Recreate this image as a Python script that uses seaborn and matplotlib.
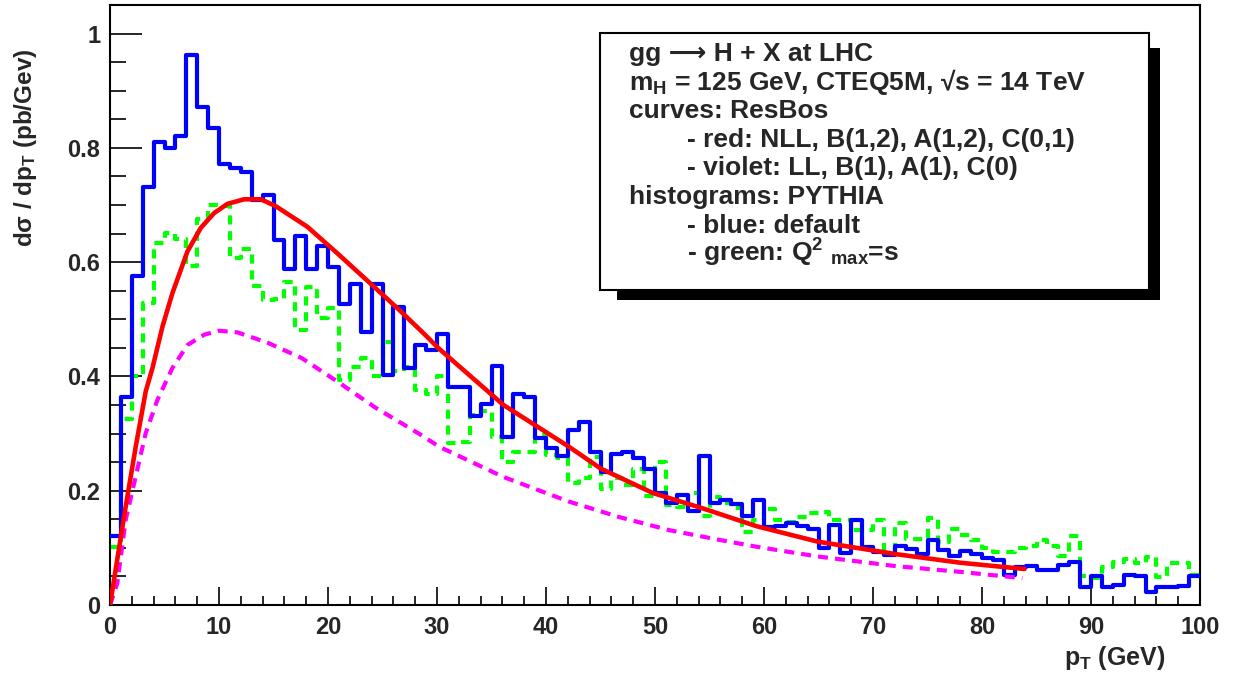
import numpy as np
import pandas as pd
import matplotlib
matplotlib.use("Agg")
import matplotlib.pyplot as plt
from matplotlib.patches import Rectangle
from matplotlib.ticker import MultipleLocator, FuncFormatter
import seaborn as sns

# ---------------- data ----------------
pt_min, pt_max, n_bins = 0, 100, 100

blue_default = [
    0.120, 0.364, 0.575, 0.731, 0.810, 0.799, 0.820, 0.963, 0.871, 0.835,
    0.772, 0.765, 0.758, 0.708, 0.718, 0.638, 0.588, 0.645, 0.588, 0.629,
    0.591, 0.527, 0.562, 0.477, 0.562, 0.402, 0.521, 0.415, 0.455, 0.447,
    0.474, 0.382, 0.382, 0.331, 0.352, 0.419, 0.294, 0.370, 0.364, 0.292,
    0.274, 0.260, 0.306, 0.321, 0.268, 0.232, 0.264, 0.268, 0.257, 0.238,
    0.196, 0.179, 0.193, 0.165, 0.260, 0.179, 0.183, 0.176, 0.156, 0.184,
    0.136, 0.138, 0.144, 0.138, 0.133, 0.099, 0.140, 0.091, 0.148, 0.101,
    0.093, 0.088, 0.103, 0.098, 0.089, 0.114, 0.096, 0.085, 0.095, 0.089,
    0.083, 0.078, 0.053, 0.067, 0.068, 0.062, 0.062, 0.070, 0.075, 0.031,
    0.050, 0.031, 0.035, 0.053, 0.050, 0.023, 0.031, 0.031, 0.034, 0.050,
]

green_q2max = [
    0.102, 0.325, 0.400, 0.528, 0.633, 0.651, 0.640, 0.593, 0.675, 0.700,
    0.698, 0.607, 0.623, 0.559, 0.534, 0.536, 0.566, 0.482, 0.557, 0.502,
    0.520, 0.394, 0.417, 0.432, 0.401, 0.461, 0.409, 0.417, 0.377, 0.369,
    0.400, 0.283, 0.286, 0.333, 0.339, 0.294, 0.251, 0.268, 0.268, 0.298,
    0.263, 0.257, 0.213, 0.223, 0.259, 0.203, 0.222, 0.210, 0.238, 0.190,
    0.251, 0.175, 0.172, 0.196, 0.156, 0.189, 0.178, 0.169, 0.128, 0.149,
    0.168, 0.149, 0.146, 0.154, 0.161, 0.163, 0.148, 0.149, 0.131, 0.131,
    0.149, 0.097, 0.143, 0.115, 0.115, 0.152, 0.111, 0.133, 0.123, 0.113,
    0.100, 0.092, 0.092, 0.099, 0.103, 0.113, 0.103, 0.085, 0.120, 0.050,
    0.047, 0.066, 0.076, 0.080, 0.074, 0.084, 0.049, 0.073, 0.073, 0.053,
]

red_pt = [0.0, 0.37, 1.29, 2.36, 3.28, 3.9, 4.81, 5.73, 7.11, 8.33, 9.56, 10.78,
          12.3, 13.85, 15.2, 18.1, 21.0, 24.1, 26.5, 28.9, 30.1, 36.1, 42.1,
          45.0, 49.8, 54.4, 59.3, 64.9, 72.1, 78.0, 83.9]
red_nll = [0.0, 0.044, 0.155, 0.277, 0.374, 0.415, 0.487, 0.546, 0.619, 0.660,
           0.686, 0.702, 0.710, 0.710, 0.698, 0.662, 0.613, 0.559, 0.517, 0.473,
           0.450, 0.350, 0.277, 0.239, 0.196, 0.169, 0.138, 0.111, 0.089, 0.074,
           0.063]

violet_pt = [0.0, 0.67, 1.44, 2.36, 3.28, 4.35, 5.73, 7.11, 8.64, 10.0, 11.7,
             14.46, 17.6, 21.1, 24.3, 28.5, 30.2, 36.1, 42.1, 46.7, 51.3, 55.9,
             59.3, 64.9, 72.1, 78.0, 83.7]
violet_ll = [0.0, 0.038, 0.149, 0.225, 0.301, 0.359, 0.415, 0.455, 0.473, 0.480,
             0.477, 0.459, 0.432, 0.388, 0.346, 0.298, 0.277, 0.224, 0.181, 0.154,
             0.131, 0.114, 0.102, 0.085, 0.068, 0.058, 0.047]

legend_lines = [
    ("gg \u27f6 H + X at LHC", False),
    ("m$_\\mathrm{H}$ = 125 GeV, CTEQ5M, \u221as = 14 TeV", False),
    ("curves: ResBos", False),
    ("- red: NLL, B(1,2), A(1,2), C(0,1)", True),
    ("- violet: LL, B(1), A(1), C(0)", True),
    ("histograms: PYTHIA", False),
    ("- blue: default", True),
    (r"- green: Q$^\mathrm{2}$ $_\mathrm{max}$=s", True),
]

# ---------------- style ----------------
sns.set_style("white")
plt.rcParams["font.family"] = ["Liberation Sans", "DejaVu Sans"]
plt.rcParams["font.weight"] = "bold"
plt.rcParams["mathtext.fontset"] = "custom"
plt.rcParams["mathtext.rm"] = "Liberation Sans:bold"
plt.rcParams["mathtext.bf"] = "Liberation Sans:bold"
plt.rcParams["mathtext.it"] = "Liberation Sans:bold"
plt.rcParams["mathtext.sf"] = "Liberation Sans:bold"

W, H = 1234, 677
fig = plt.figure(figsize=(W / 100, H / 100), dpi=100)
fig.patch.set_facecolor("white")
ax = fig.add_axes([110 / W, 72 / H, 1090 / W, 600 / H])
ax.set_facecolor("white")

bin_width = (pt_max - pt_min) / n_bins
centers = pt_min + bin_width * (np.arange(n_bins) + 0.5)
hist_df = pd.DataFrame({"pt": centers,
                        "blue": np.asarray(blue_default, dtype=float),
                        "green": np.asarray(green_q2max, dtype=float)})

sns.histplot(data=hist_df, x="pt", weights="green", bins=n_bins,
             binrange=(pt_min, pt_max), element="step",
             fill=False, color="#00ff00", linewidth=3.0,
             linestyle=(0, (2.2, 1.6)), ax=ax, zorder=2)
sns.histplot(data=hist_df, x="pt", weights="blue", bins=n_bins,
             binrange=(pt_min, pt_max), element="step",
             fill=False, color="#0000ff", linewidth=3.0, ax=ax, zorder=3)
sns.lineplot(x=violet_pt, y=violet_ll, color="#ff00ff", linewidth=3.0,
             linestyle=(0, (2.4, 1.7)), ax=ax, zorder=4, estimator=None)
sns.lineplot(x=red_pt, y=red_nll, color="#ff0000", linewidth=3.3,
             ax=ax, zorder=5, estimator=None)

ax.set_xlim(pt_min, pt_max)
ax.set_ylim(0, 1.05)
ax.set_xlabel("")
ax.set_ylabel("")

for s in ax.spines.values():
    s.set_visible(True)
    s.set_color("black")
    s.set_linewidth(1.5)

ax.xaxis.set_major_locator(MultipleLocator(10))
ax.xaxis.set_minor_locator(MultipleLocator(2))
ax.yaxis.set_major_locator(MultipleLocator(0.2))
ax.yaxis.set_minor_locator(MultipleLocator(0.05))
fmt = FuncFormatter(lambda v, p: f"{v:g}")
ax.xaxis.set_major_formatter(fmt)
ax.yaxis.set_major_formatter(fmt)

ax.tick_params(axis="x", which="major", direction="in", length=13, width=1.4,
               labelsize=17, pad=8, bottom=True, top=False)
ax.tick_params(axis="x", which="minor", direction="in", length=6.5, width=1.4,
               bottom=True, top=False)
ax.tick_params(axis="y", which="major", direction="in", length=23, width=1.4,
               labelsize=17, pad=7, left=True, right=False)
ax.tick_params(axis="y", which="minor", direction="in", length=11.5, width=1.4,
               left=True, right=False)
for lab in ax.get_xticklabels() + ax.get_yticklabels():
    lab.set_fontweight("bold")

# axis titles
fig.text(1165 / W, 1 - 658 / H, r"p$_\mathrm{T}$ (GeV)", ha="right",
         va="center", fontsize=18, fontweight="bold")
fig.text(26 / W, 1 - 148 / H, "d\u03c3 / dp$_\\mathrm{T}$ (pb/Gev)",
         rotation=90, ha="center", va="center", fontsize=17.5,
         fontweight="bold")

# info box with shadow
def fx(px):
    return px / W

def fy(py):
    return 1 - py / H

shadow = Rectangle((fx(617), fy(300)), fx(1160) - fx(617), fy(48) - fy(300),
                   transform=fig.transFigure, facecolor="black",
                   edgecolor="none", zorder=10)
box = Rectangle((fx(600), fy(290)), fx(1149) - fx(600), fy(33) - fy(290),
                transform=fig.transFigure, facecolor="white",
                edgecolor="black", linewidth=1.5, zorder=11)
fig.add_artist(shadow)
fig.add_artist(box)
for i, (txt, indent) in enumerate(legend_lines):
    x0 = 687 if indent else 629
    fig.text(fx(x0), fy(61 + 28.6 * i), txt, ha="left", va="baseline",
             fontsize=19, fontweight="bold", zorder=12)

fig.savefig("out.png", dpi=100, facecolor="white")
